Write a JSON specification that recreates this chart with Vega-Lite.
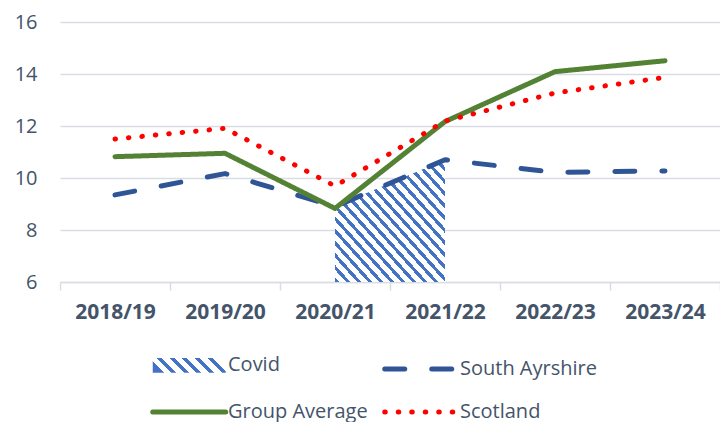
{
  "$schema": "https://vega.github.io/schema/vega-lite/v6.json",
  "width": 660,
  "height": 260,
  "autosize": {"type": "none"},
  "padding": {"left": 60, "top": 22, "right": 0, "bottom": 140},
  "background": "white",
  "config": {
    "view": {"stroke": null},
    "font": "Open Sans",
    "axisY": {"grid": true, "gridColor": "#d9dde3", "gridWidth": 1.5, "domain": false, "ticks": false, "labelPadding": 23, "labelFontSize": 20, "labelColor": "#44546a", "title": null},
    "axisX": {"grid": false, "domainColor": "#d9dde3", "domainWidth": 1.5, "tickColor": "#d9dde3", "tickWidth": 1.5, "tickSize": 8, "tickBand": "extent", "labelAngle": 0, "labelFontSize": 21, "labelFontWeight": "bold", "labelColor": "#44546a", "labelPadding": 11, "title": null}
  },
  "datasets": {
    "covid": [
      {"year": "2020/21", "value": 8.9},
      {"year": "2021/22", "value": 10.7}
    ],
    "lines": [
      {"year": "2018/19", "series": "South Ayrshire", "value": 9.35},
      {"year": "2019/20", "series": "South Ayrshire", "value": 10.17},
      {"year": "2020/21", "series": "South Ayrshire", "value": 8.9},
      {"year": "2021/22", "series": "South Ayrshire", "value": 10.7},
      {"year": "2022/23", "series": "South Ayrshire", "value": 10.22},
      {"year": "2023/24", "series": "South Ayrshire", "value": 10.27},
      {"year": "2018/19", "series": "Group Average", "value": 10.82},
      {"year": "2019/20", "series": "Group Average", "value": 10.95},
      {"year": "2020/21", "series": "Group Average", "value": 8.83},
      {"year": "2021/22", "series": "Group Average", "value": 12.17},
      {"year": "2022/23", "series": "Group Average", "value": 14.09},
      {"year": "2023/24", "series": "Group Average", "value": 14.51},
      {"year": "2018/19", "series": "Scotland", "value": 11.5},
      {"year": "2019/20", "series": "Scotland", "value": 11.91},
      {"year": "2020/21", "series": "Scotland", "value": 9.69},
      {"year": "2021/22", "series": "Scotland", "value": 12.19},
      {"year": "2022/23", "series": "Scotland", "value": 13.27},
      {"year": "2023/24", "series": "Scotland", "value": 13.87}
    ]
  },
  "layer": [
    {
      "data": {"name": "covid"},
      "mark": {
        "type": "area",
        "fill": {
          "gradient": "linear", "x1": 0, "y1": 1, "x2": 1, "y2": 0,
          "stops": [
            {"offset": 0.00, "color": "#4472c4"}, {"offset": 0.02, "color": "#4472c4"}, {"offset": 0.02, "color": "#ffffff"}, {"offset": 0.05, "color": "#ffffff"},
            {"offset": 0.05, "color": "#4472c4"}, {"offset": 0.07, "color": "#4472c4"}, {"offset": 0.07, "color": "#ffffff"}, {"offset": 0.10, "color": "#ffffff"},
            {"offset": 0.10, "color": "#4472c4"}, {"offset": 0.12, "color": "#4472c4"}, {"offset": 0.12, "color": "#ffffff"}, {"offset": 0.15, "color": "#ffffff"},
            {"offset": 0.15, "color": "#4472c4"}, {"offset": 0.17, "color": "#4472c4"}, {"offset": 0.17, "color": "#ffffff"}, {"offset": 0.20, "color": "#ffffff"},
            {"offset": 0.20, "color": "#4472c4"}, {"offset": 0.22, "color": "#4472c4"}, {"offset": 0.22, "color": "#ffffff"}, {"offset": 0.25, "color": "#ffffff"},
            {"offset": 0.25, "color": "#4472c4"}, {"offset": 0.27, "color": "#4472c4"}, {"offset": 0.27, "color": "#ffffff"}, {"offset": 0.30, "color": "#ffffff"},
            {"offset": 0.30, "color": "#4472c4"}, {"offset": 0.32, "color": "#4472c4"}, {"offset": 0.32, "color": "#ffffff"}, {"offset": 0.35, "color": "#ffffff"},
            {"offset": 0.35, "color": "#4472c4"}, {"offset": 0.37, "color": "#4472c4"}, {"offset": 0.37, "color": "#ffffff"}, {"offset": 0.40, "color": "#ffffff"},
            {"offset": 0.40, "color": "#4472c4"}, {"offset": 0.42, "color": "#4472c4"}, {"offset": 0.42, "color": "#ffffff"}, {"offset": 0.45, "color": "#ffffff"},
            {"offset": 0.45, "color": "#4472c4"}, {"offset": 0.47, "color": "#4472c4"}, {"offset": 0.47, "color": "#ffffff"}, {"offset": 0.50, "color": "#ffffff"},
            {"offset": 0.50, "color": "#4472c4"}, {"offset": 0.52, "color": "#4472c4"}, {"offset": 0.52, "color": "#ffffff"}, {"offset": 0.55, "color": "#ffffff"},
            {"offset": 0.55, "color": "#4472c4"}, {"offset": 0.57, "color": "#4472c4"}, {"offset": 0.57, "color": "#ffffff"}, {"offset": 0.60, "color": "#ffffff"},
            {"offset": 0.60, "color": "#4472c4"}, {"offset": 0.62, "color": "#4472c4"}, {"offset": 0.62, "color": "#ffffff"}, {"offset": 0.65, "color": "#ffffff"},
            {"offset": 0.65, "color": "#4472c4"}, {"offset": 0.67, "color": "#4472c4"}, {"offset": 0.67, "color": "#ffffff"}, {"offset": 0.70, "color": "#ffffff"},
            {"offset": 0.70, "color": "#4472c4"}, {"offset": 0.72, "color": "#4472c4"}, {"offset": 0.72, "color": "#ffffff"}, {"offset": 0.75, "color": "#ffffff"},
            {"offset": 0.75, "color": "#4472c4"}, {"offset": 0.77, "color": "#4472c4"}, {"offset": 0.77, "color": "#ffffff"}, {"offset": 0.80, "color": "#ffffff"},
            {"offset": 0.80, "color": "#4472c4"}, {"offset": 0.82, "color": "#4472c4"}, {"offset": 0.82, "color": "#ffffff"}, {"offset": 0.85, "color": "#ffffff"},
            {"offset": 0.85, "color": "#4472c4"}, {"offset": 0.87, "color": "#4472c4"}, {"offset": 0.87, "color": "#ffffff"}, {"offset": 0.90, "color": "#ffffff"},
            {"offset": 0.90, "color": "#4472c4"}, {"offset": 0.92, "color": "#4472c4"}, {"offset": 0.92, "color": "#ffffff"}, {"offset": 0.95, "color": "#ffffff"},
            {"offset": 0.95, "color": "#4472c4"}, {"offset": 0.97, "color": "#4472c4"}, {"offset": 0.97, "color": "#ffffff"}, {"offset": 1.00, "color": "#ffffff"}
          ]
        }
      },
      "encoding": {
        "x": {"field": "year", "type": "nominal", "sort": null,
              "scale": {"type": "band", "domain": ["2018/19", "2019/20", "2020/21", "2021/22", "2022/23", "2023/24"], "paddingInner": 0, "paddingOuter": 0}},
        "y": {"field": "value", "type": "quantitative", "scale": {"domain": [6, 16], "zero": false, "nice": false},
              "axis": {"values": [6, 8, 10, 12, 14, 16]}},
        "y2": {"datum": 6}
      }
    },
    {
      "data": {"name": "lines"},
      "mark": {"type": "line", "strokeWidth": 5, "strokeCap": "round", "strokeJoin": "round"},
      "encoding": {
        "x": {"field": "year", "type": "nominal", "sort": null},
        "y": {"field": "value", "type": "quantitative"},
        "color": {
          "field": "series", "type": "nominal",
          "scale": {"domain": ["Covid", "South Ayrshire", "Group Average", "Scotland"], "range": ["transparent", "#2f5597", "#548235", "#ff0000"]},
          "legend": {
            "orient": "none", "legendX": 90, "legendY": 322, "columns": 2, "direction": "horizontal", "title": null,
            "symbolSize": 1332, "symbolStrokeWidth": 5, "labelFontSize": 20, "labelColor": "#44546a",
            "labelOffset": 36, "columnPadding": 6, "rowPadding": 8, "labelLimit": 300,
            "encode": {
              "symbols": {
                "update": {
                  "shape": {"signal": "datum.value === 'Covid' ? 'M-1,-0.4H3V0.4H-1Z' : 'M-1,0H3'"},
                  "strokeCap": {"value": "round"},
                  "fill": {"signal": "datum.value === 'Covid' ? {gradient: 'linear', x1: 0, y1: 0.6, x2: 1, y2: 0.4, stops: [{offset: 0, color: '#4472c4'}, {offset: 0.0667, color: '#4472c4'}, {offset: 0.0667, color: '#ffffff'}, {offset: 0.1667, color: '#ffffff'}, {offset: 0.1667, color: '#4472c4'}, {offset: 0.2333, color: '#4472c4'}, {offset: 0.2333, color: '#ffffff'}, {offset: 0.3333, color: '#ffffff'}, {offset: 0.3333, color: '#4472c4'}, {offset: 0.4, color: '#4472c4'}, {offset: 0.4, color: '#ffffff'}, {offset: 0.5, color: '#ffffff'}, {offset: 0.5, color: '#4472c4'}, {offset: 0.5667, color: '#4472c4'}, {offset: 0.5667, color: '#ffffff'}, {offset: 0.6667, color: '#ffffff'}, {offset: 0.6667, color: '#4472c4'}, {offset: 0.7333, color: '#4472c4'}, {offset: 0.7333, color: '#ffffff'}, {offset: 0.8333, color: '#ffffff'}, {offset: 0.8333, color: '#4472c4'}, {offset: 0.9, color: '#4472c4'}, {offset: 0.9, color: '#ffffff'}, {offset: 1, color: '#ffffff'}]} : 'transparent'"}
                }
              }
            }
          }
        },
        "strokeDash": {
          "field": "series", "type": "nominal",
          "scale": {"domain": ["Covid", "South Ayrshire", "Group Average", "Scotland"], "range": [[1, 0], [20, 27], [1, 0], [0.5, 13]]}
        }
      }
    }
  ]
}
